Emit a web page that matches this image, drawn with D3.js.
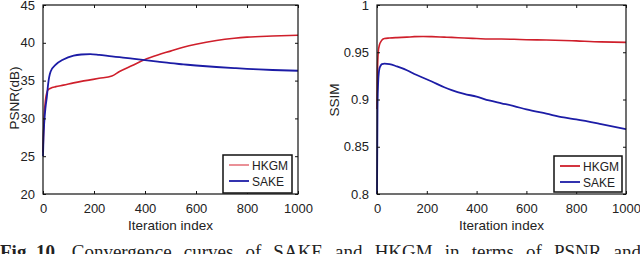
<!DOCTYPE html>
<html>
<head>
<meta charset="utf-8">
<script src="https://cdn.jsdelivr.net/npm/d3@7"></script>
<style>
  body { margin: 0; background: #fff; }
  svg { display: block; }
  text { font-family: "Liberation Sans", Arial, sans-serif; fill: #222; }
</style>
</head>
<body>
<div id="chart"></div>
<script>
const iterations = [0, 2, 5, 10, 15, 20, 30, 50, 80, 120, 150, 185, 220, 270, 300, 350, 400, 450, 500, 550, 600, 680, 750, 800, 900, 1000];

const psnrHKGM = [25.5, 28, 30.5, 32.5, 33.4, 33.8, 34.0, 34.2, 34.4, 34.7, 34.9, 35.1, 35.3, 35.6, 36.2, 37.0, 37.8, 38.4, 38.9, 39.4, 39.8, 40.3, 40.6, 40.75, 40.9, 41.0];
const psnrSAKE = [25, 27.5, 29.5, 31.5, 32.8, 34.5, 36.2, 37.1, 37.8, 38.3, 38.45, 38.5, 38.4, 38.2, 38.1, 37.9, 37.7, 37.5, 37.3, 37.15, 37.0, 36.8, 36.65, 36.55, 36.4, 36.3];

const ssimHKGM = [0.89, 0.93, 0.95, 0.958, 0.961, 0.963, 0.9645, 0.965, 0.9655, 0.966, 0.9665, 0.9667, 0.9665, 0.966, 0.9657, 0.965, 0.9645, 0.964, 0.964, 0.9637, 0.9633, 0.963, 0.9625, 0.962, 0.961, 0.9605];
const ssimSAKE = [0.8, 0.89, 0.92, 0.933, 0.936, 0.9375, 0.938, 0.9375, 0.935, 0.931, 0.927, 0.923, 0.919, 0.913, 0.910, 0.906, 0.903, 0.899, 0.896, 0.893, 0.8895, 0.885, 0.881, 0.879, 0.874, 0.8685];

const xTicks = [0, 200, 400, 600, 800, 1000];
const psnrTicks = [20, 25, 30, 35, 40, 45];
const ssimTicks = [0.8, 0.85, 0.9, 0.95, 1];
const seriesNames = ['HKGM', 'SAKE'];
const captionLabel = 'Fig. 10.';
const captionWords = 'Convergence curves of SAKE and HKGM in terms of PSNR and SSIM.'.split(' ');

const red = '#cf1f2b';
const blue = '#1c1ca6';

const svg = d3.select('#chart')
  .append('svg')
  .attr('width', 640)
  .attr('height', 254);

function drawPanel(opt) {
  const x = d3.scaleLinear().domain([0, 1000]).range([opt.left, opt.right]);
  const y = d3.scaleLinear().domain(opt.yDomain).range([194, 5]);
  const g = svg.append('g');

  // curves
  const line = d3.line()
    .x((d, i) => x(iterations[i]))
    .y(d => y(d))
    .curve(d3.curveMonotoneX);
  g.append('path').attr('d', line(opt.red)).attr('fill', 'none')
    .attr('stroke', red).attr('stroke-width', 1.6);
  g.append('path').attr('d', line(opt.blue)).attr('fill', 'none')
    .attr('stroke', blue).attr('stroke-width', 1.8);

  // axes, matlab style ticks pointing in
  const bottom = g.append('g').attr('transform', 'translate(0,194)')
    .call(d3.axisBottom(x).tickValues(xTicks).tickSizeInner(-3).tickSizeOuter(0).tickPadding(10).tickFormat(d3.format('d')));
  const top = g.append('g').attr('transform', 'translate(0,5)')
    .call(d3.axisTop(x).tickValues(xTicks).tickSizeInner(-3).tickSizeOuter(0).tickFormat(''));
  const leftAx = g.append('g').attr('transform', `translate(${opt.left},0)`)
    .call(d3.axisLeft(y).tickValues(opt.yTicks).tickSizeInner(-3).tickSizeOuter(0).tickPadding(8).tickFormat(opt.fmt));
  const rightAx = g.append('g').attr('transform', `translate(${opt.right},0)`)
    .call(d3.axisRight(y).tickValues(opt.yTicks).tickSizeInner(-3).tickSizeOuter(0).tickFormat(''));
  [bottom, top, leftAx, rightAx].forEach(a => {
    a.select('.domain').remove();
    a.selectAll('line').attr('stroke', '#111');
    a.selectAll('text').attr('font-size', 13).attr('fill', '#333')
      .style('font-family', '"Liberation Sans", Arial, sans-serif');
  });

  g.append('rect')
    .attr('x', opt.left).attr('y', 5)
    .attr('width', opt.right - opt.left).attr('height', 189)
    .attr('fill', 'none').attr('stroke', '#111').attr('stroke-width', 1.2);

  g.append('text')
    .attr('x', (opt.left + opt.right) / 2).attr('y', 230)
    .attr('text-anchor', 'middle').attr('font-size', 13.5)
    .text('Iteration index');

  g.append('text')
    .attr('transform', `translate(${opt.ylabX},${opt.ylabY}) rotate(-90)`)
    .attr('text-anchor', 'middle').attr('font-size', 13.5)
    .text(opt.ylabel);

  // legend
  const lg = opt.legend;
  g.append('rect')
    .attr('x', lg.x).attr('y', lg.y).attr('width', lg.w).attr('height', lg.h)
    .attr('fill', '#fff').attr('stroke', '#111').attr('stroke-width', 1.5);
  seriesNames.forEach((name, i) => {
    const yy = lg.y + 10 + i * 16;
    g.append('line')
      .attr('x1', lg.x + 6).attr('x2', lg.x + 26)
      .attr('y1', yy).attr('y2', yy)
      .attr('stroke', i === 0 ? lg.redColor : blue).attr('stroke-width', 1.8);
    g.append('text')
      .attr('x', lg.x + 29).attr('y', yy + 4.5)
      .attr('font-size', 12).text(name);
  });
}

drawPanel({
  left: 43, right: 298, yDomain: [20, 45], yTicks: psnrTicks, fmt: d3.format('d'),
  red: psnrHKGM, blue: psnrSAKE, ylabel: 'PSNR(dB)', ylabX: 19, ylabY: 98,
  legend: { x: 223, y: 155, w: 69, h: 38, redColor: '#e8848c' }
});

drawPanel({
  left: 377, right: 626, yDomain: [0.8, 1], yTicks: ssimTicks, fmt: d => d === 1 ? '1' : d3.format('.2~f')(d),
  red: ssimHKGM, blue: ssimSAKE, ylabel: 'SSIM', ylabX: 339, ylabY: 100,
  legend: { x: 554, y: 156, w: 68, h: 36, redColor: red }
});

// caption: justified line, cut off by the bottom edge like in the source figure
const capY = 258;
const capG = svg.append('g')
  .style('font-family', '"Liberation Serif", "Times New Roman", serif');
const label = capG.append('text').attr('x', 0).attr('y', capY)
  .attr('font-size', 19).attr('font-weight', 'bold').attr('fill', '#111')
  .style('font-family', 'inherit').text(captionLabel);
const words = captionWords.map(w => capG.append('text').attr('y', capY)
  .attr('font-size', 19).attr('fill', '#111').style('font-family', 'inherit').text(w));
// spread words so the second "and" ends at the right edge
const lastIdx = captionWords.lastIndexOf('and');
const labelW = label.node().getComputedTextLength();
const widths = words.map(w => w.node().getComputedTextLength());
const used = labelW + d3.sum(widths.slice(0, lastIdx + 1));
const gap = (641 - used) / (lastIdx + 1);
let cx = labelW + gap;
words.forEach((w, i) => { w.attr('x', cx); cx += widths[i] + gap; });
</script>
</body>
</html>
